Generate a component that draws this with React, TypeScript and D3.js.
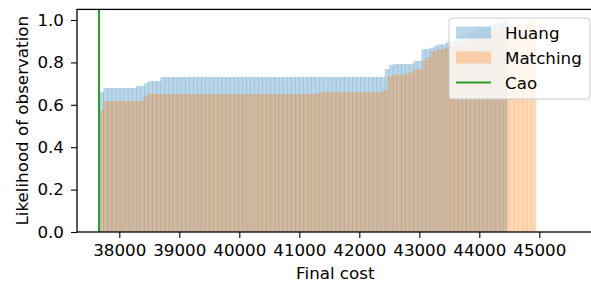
import React, { useEffect, useRef } from 'react';
import * as d3 from 'd3';

// cumulative histograms, 100 bins each; values only change at the listed bins
const binCount = 100;
const huangRange = [37667, 44462];
const matchingRange = [37667, 44940];
const caoCost = 37662;

const huangStepBins = [0, 1, 9, 11, 12, 15, 70, 71, 72, 77, 79, 81, 82, 83, 85, 86, 87, 88, 89, 90, 91, 92, 93, 94, 95, 96, 97, 98, 99];
const huangStepValues = [0.66, 0.679, 0.689, 0.703, 0.712, 0.731, 0.769, 0.788, 0.792, 0.807, 0.863, 0.869, 0.879, 0.885, 0.895, 0.9, 0.91, 0.92, 0.93, 0.94, 0.945, 0.95, 0.96, 0.965, 0.97, 0.98, 0.985, 0.99, 1.0];

const matchingStepBins = [0, 1, 10, 11, 50, 51, 65, 66, 67, 70, 71, 72, 74, 75, 76, 77, 79, 80, 82, 84, 86, 88, 90, 92, 94, 96, 98, 99];
const matchingStepValues = [0.572, 0.618, 0.637, 0.651, 0.656, 0.66, 0.672, 0.733, 0.741, 0.747, 0.753, 0.767, 0.81, 0.825, 0.85, 0.862, 0.869, 0.875, 0.89, 0.905, 0.92, 0.935, 0.95, 0.96, 0.975, 0.985, 0.995, 1.0];

const xTicks = [38000, 39000, 40000, 41000, 42000, 43000, 44000, 45000];
const yTicks = [0, 0.2, 0.4, 0.6, 0.8, 1.0];
const legendNames = ['Huang', 'Matching', 'Cao'];

const toBins = (range: number[], stepBins: number[], stepValues: number[]) => {
    const w = (range[1] - range[0]) / binCount;
    const out: { x0: number; x1: number; v: number }[] = [];
    let v = 0;
    for (let i = 0; i < binCount; i++) {
        const k = stepBins.indexOf(i);
        if (k >= 0) v = stepValues[k];
        out.push({ x0: range[0] + i * w, x1: range[0] + (i + 1) * w, v });
    }
    return out;
};

const font = 'DejaVu Sans, sans-serif';
const fontSize = '16.7px';

const App = () => {
    const ref = useRef<SVGSVGElement>(null);

    useEffect(() => {
        if (!ref.current) return;
        const svg = d3.select(ref.current);
        svg.selectAll('*').remove();

        const width = 591;
        const height = 283;
        const margin = { top: 9.4, right: -7, bottom: 51, left: 77 };

        const x = d3.scaleLinear()
            .domain([37295, 45978])
            .range([margin.left, width - margin.right]);
        const y = d3.scaleLinear()
            .domain([0, 1.05])
            .range([height - margin.bottom, margin.top]);

        const plot = svg.append('g');

        const drawHist = (bins: { x0: number; x1: number; v: number }[], color: string) => {
            plot.append('g')
                .selectAll('rect')
                .data(bins)
                .join('rect')
                .attr('x', d => x(d.x0))
                .attr('width', d => x(d.x1) - x(d.x0) + 0.6)
                .attr('y', d => y(d.v))
                .attr('height', d => y(0) - y(d.v))
                .attr('fill', color)
                .attr('fill-opacity', 0.3);
        };

        drawHist(toBins(huangRange, huangStepBins, huangStepValues), '#1f77b4');
        drawHist(toBins(matchingRange, matchingStepBins, matchingStepValues), '#ff7f0e');

        plot.append('line')
            .attr('x1', x(caoCost)).attr('x2', x(caoCost))
            .attr('y1', y(1.05)).attr('y2', y(0))
            .attr('stroke', '#2ca02c')
            .attr('stroke-width', 2.1);

        const xAxis = svg.append('g')
            .attr('transform', `translate(0,${y(0)})`)
            .call(d3.axisBottom(x).tickValues(xTicks).tickFormat(d3.format('d')).tickSize(6).tickPadding(6));
        const yAxis = svg.append('g')
            .attr('transform', `translate(${margin.left},0)`)
            .call(d3.axisLeft(y).tickValues(yTicks).tickFormat(d3.format('.1f')).tickSize(6).tickPadding(7));

        [xAxis, yAxis].forEach(a => {
            a.selectAll('.domain').remove();
            a.selectAll('line').attr('stroke', '#000').attr('stroke-width', 1.1);
            a.selectAll('text')
                .attr('fill', '#000')
                .style('font-family', font)
                .style('font-size', fontSize);
        });

        // spines (right one falls outside the picture)
        svg.append('rect')
            .attr('x', margin.left)
            .attr('y', margin.top)
            .attr('width', width - margin.right - margin.left)
            .attr('height', y(0) - margin.top)
            .attr('fill', 'none')
            .attr('stroke', '#000')
            .attr('stroke-width', 1.3);

        svg.append('text')
            .attr('x', (x(38000) + x(45000)) / 2 + 6)
            .attr('y', 279)
            .attr('text-anchor', 'middle')
            .style('font-family', font)
            .style('font-size', fontSize)
            .text('Final cost');

        svg.append('text')
            .attr('transform', `translate(28,${(y(0) + margin.top) / 2}) rotate(-90)`)
            .attr('text-anchor', 'middle')
            .style('font-family', font)
            .style('font-size', fontSize)
            .text('Likelihood of observation');

        // legend
        const lg = svg.append('g').attr('transform', 'translate(449,18)');
        lg.append('rect')
            .attr('width', 141).attr('height', 81)
            .attr('rx', 3)
            .attr('fill', '#fff').attr('fill-opacity', 0.8)
            .attr('stroke', '#ccc').attr('stroke-width', 1);
        const colors = ['#1f77b4', '#ff7f0e', '#2ca02c'];
        legendNames.forEach((name, i) => {
            const cy = 14.5 + i * 25;
            if (i < 2) {
                lg.append('rect')
                    .attr('x', 7).attr('y', cy - 6)
                    .attr('width', 35).attr('height', 12)
                    .attr('fill', colors[i]).attr('fill-opacity', 0.3);
            } else {
                lg.append('line')
                    .attr('x1', 7).attr('x2', 42)
                    .attr('y1', cy).attr('y2', cy)
                    .attr('stroke', colors[i]).attr('stroke-width', 2.1);
            }
            lg.append('text')
                .attr('x', 56).attr('y', cy + 6)
                .style('font-family', font)
                .style('font-size', fontSize)
                .text(name);
        });
    }, []);

    return (
        <svg
            ref={ref}
            width={591}
            height={283}
            style={{ position: 'absolute', left: 0, top: 0, background: '#fff' }}
        />
    );
};

export default App;
